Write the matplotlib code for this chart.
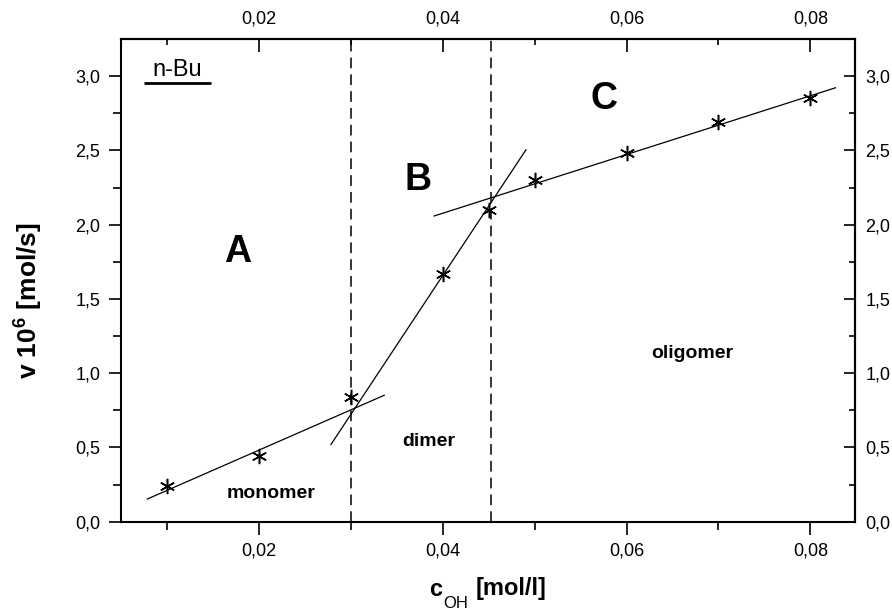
import matplotlib
matplotlib.use("Agg")
import matplotlib.pyplot as plt
from matplotlib.ticker import FixedLocator, FuncFormatter

plt.rcParams['font.family'] = ['Liberation Sans', 'DejaVu Sans']

# data
c_oh = [0.01, 0.02, 0.03, 0.04, 0.045, 0.05, 0.06, 0.07, 0.08]
rate = [0.24, 0.44, 0.84, 1.67, 2.10, 2.30, 2.48, 2.69, 2.85]

fitA_x = [0.0078, 0.0337]
fitA_y = [0.151, 0.853]
fitB_x = [0.0278, 0.0491]
fitB_y = [0.516, 2.508]
fitC_x = [0.0390, 0.0828]
fitC_y = [2.057, 2.923]

borders = [0.0300, 0.0453]

xticks_major = [0.02, 0.04, 0.06, 0.08]
xticks_minor = [0.01, 0.03, 0.05, 0.07]
yticks_major = [0.0, 0.5, 1.0, 1.5, 2.0, 2.5, 3.0]
yticks_minor = [0.25, 0.75, 1.25, 1.75, 2.25, 2.75, 3.25]

W, H = 892, 611
fig = plt.figure(figsize=(W/100, H/100), dpi=100)
ax = fig.add_axes([121/W, (H-521.7)/H, (854.5-121)/W, (521.7-39)/H])

ax.set_xlim(0.005, 0.0848)
ax.set_ylim(0.0, 3.25)

# fit lines
for fx, fy in [(fitA_x, fitA_y), (fitB_x, fitB_y), (fitC_x, fitC_y)]:
    ax.plot(fx, fy, color='black', lw=0.9, solid_capstyle='butt')

# vertical borders
for b in borders:
    ax.axvline(b, color='black', lw=1.1, ls=(0, (7, 4)))

# data points (asterisk)
ax.plot(c_oh, rate, ls='none', marker=(6, 2, 0), ms=11, mew=1.1, color='black')

fmt = FuncFormatter(lambda v, p: f"{v:.2f}".replace('.', ','))
yfmt = FuncFormatter(lambda v, p: f"{v:.1f}".replace('.', ','))

ax.xaxis.set_major_locator(FixedLocator(xticks_major))
ax.xaxis.set_minor_locator(FixedLocator(xticks_minor))
ax.yaxis.set_major_locator(FixedLocator(yticks_major))
ax.yaxis.set_minor_locator(FixedLocator(yticks_minor[:-1]))
ax.xaxis.set_major_formatter(fmt)
ax.yaxis.set_major_formatter(yfmt)

ax.tick_params(axis='both', which='major', direction='out', length=9, width=1.2,
               labelsize=13, pad=6)
ax.tick_params(axis='both', which='minor', direction='out', length=6, width=1.2)

for s in ax.spines.values():
    s.set_linewidth(1.5)

secx = ax.secondary_xaxis('top')
secx.xaxis.set_major_locator(FixedLocator(xticks_major))
secx.xaxis.set_minor_locator(FixedLocator(xticks_minor))
secx.xaxis.set_major_formatter(fmt)
secx.tick_params(which='major', direction='in', length=9, width=1.2, labelsize=13, pad=8)
secx.tick_params(which='minor', direction='in', length=4, width=1.2)
secx.spines['top'].set_linewidth(1.5)

secy = ax.secondary_yaxis('right')
secy.yaxis.set_major_locator(FixedLocator(yticks_major))
secy.yaxis.set_minor_locator(FixedLocator(yticks_minor[:-1]))
secy.yaxis.set_major_formatter(yfmt)
secy.tick_params(which='major', direction='in', length=8, width=1.2, labelsize=13, pad=8)
secy.tick_params(which='minor', direction='in', length=4, width=1.2)
secy.spines['right'].set_linewidth(1.5)

# annotations
ax.text(0.01116, 3.04, 'n-Bu', fontsize=17, ha='center', va='center')
ax.plot([0.00746, 0.01475], [2.952, 2.952], color='black', lw=2, solid_capstyle='butt')
ax.text(0.01765, 1.815, 'A', fontsize=27, fontweight='bold', ha='center', va='center')
ax.text(0.03737, 2.30, 'B', fontsize=27, fontweight='bold', ha='center', va='center')
ax.text(0.0575, 2.848, 'C', fontsize=27, fontweight='bold', ha='center', va='center')
ax.text(0.0213, 0.191, 'monomer', fontsize=14, fontweight='bold', ha='center', va='center')
ax.text(0.03849, 0.538, 'dimer', fontsize=14, fontweight='bold', ha='center', va='center')
ax.text(0.06717, 1.135, 'oligomer', fontsize=14, fontweight='bold', ha='center', va='center')

# axis labels
fig.text(28/W, 1-301/H, r'v 10$^{\mathregular{6}}$ [mol/s]', rotation=90, fontsize=19,
         fontweight='bold', ha='center', va='center')
fig.text(436/W, 1-589/H, 'c', fontsize=17, fontweight='bold', ha='center', va='center')
fig.text(455.5/W, 1-604/H, 'OH', fontsize=12, ha='center', va='center')
fig.text(511/W, 1-588/H, '[mol/l]', fontsize=17, fontweight='bold', ha='center', va='center')

fig.savefig('out.png', dpi=100)
